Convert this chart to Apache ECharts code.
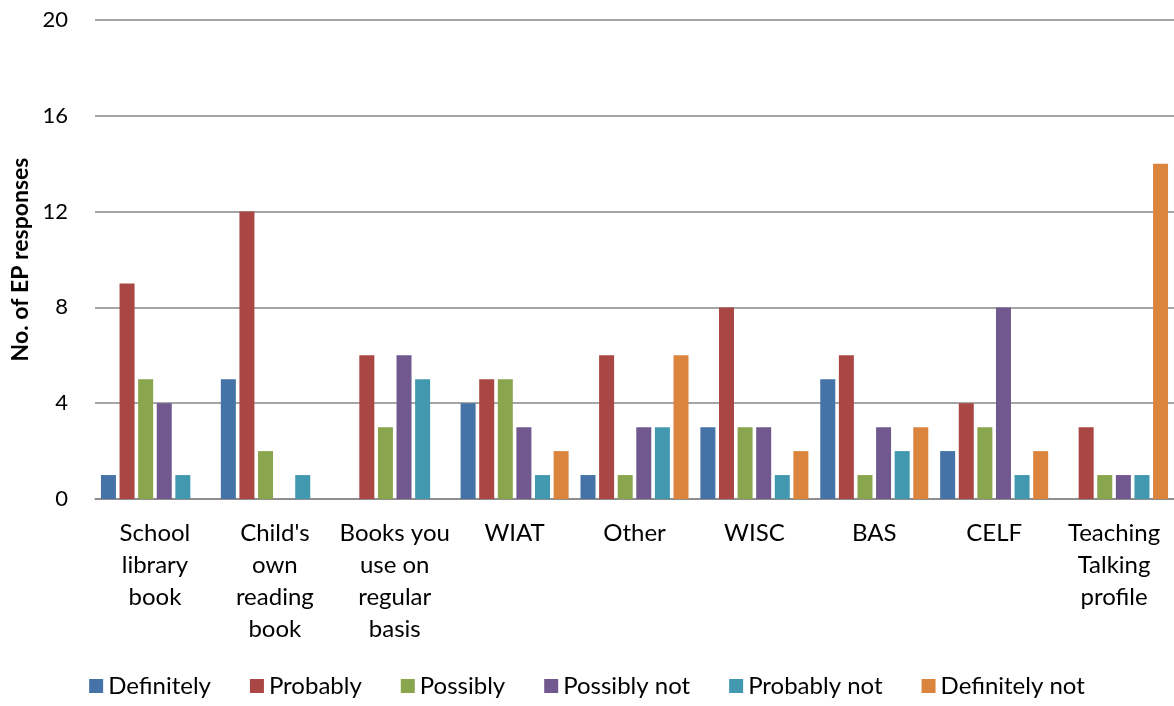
<!DOCTYPE html>
<html>
<head>
<meta charset="utf-8">
<style>
  html, body { margin: 0; padding: 0; background: #fff; }
  #chart { width: 1174px; height: 706px; }
</style>
<script src="https://cdn.jsdelivr.net/npm/echarts@6/dist/echarts.min.js"></script>
</head>
<body>
<div id="chart"></div>
<script>
// Assessment materials (line breaks as shown under the axis)
const categories = [
  'School\nlibrary\nbook',
  "Child's\nown\nreading\nbook",
  'Books you\nuse on\nregular\nbasis',
  'WIAT',
  'Other',
  'WISC',
  'BAS',
  'CELF',
  'Teaching\nTalking\nprofile'
];

// Number of EP responses per answer
const definitely    = [1, 5, 0, 4, 1, 3, 5, 2, 0];
const probably      = [9, 12, 6, 5, 6, 8, 6, 4, 3];
const possibly      = [5, 2, 3, 5, 1, 3, 1, 3, 1];
const possiblyNot   = [4, 0, 6, 3, 3, 3, 3, 8, 1];
const probablyNot   = [1, 1, 5, 1, 3, 1, 2, 1, 1];
const definitelyNot = [0, 0, 0, 2, 6, 2, 3, 2, 14];

const yTicks = { min: 0, max: 20, interval: 4 };

const seriesDefs = [
  { name: 'Definitely',     data: definitely,    color: '#4572A7' },
  { name: 'Probably',       data: probably,      color: '#AA4643' },
  { name: 'Possibly',       data: possibly,      color: '#89A54E' },
  { name: 'Possibly not',   data: possiblyNot,   color: '#71588F' },
  { name: 'Probably not',   data: probablyNot,   color: '#4198AF' },
  { name: 'Definitely not', data: definitelyNot, color: '#DB843D' }
];

const FONT = 'Lato, "Open Sans", sans-serif';

const chart = echarts.init(document.getElementById('chart'));
chart.setOption({
  animation: false,
  backgroundColor: '#ffffff',
  textStyle: { fontFamily: FONT, color: '#000' },
  grid: { left: 95, right: 0, top: 20, bottom: 207, containLabel: false, outerBoundsMode: 'none' },
  legend: {
    bottom: 3,
    left: 'center',
    itemWidth: 14,
    itemHeight: 14,
    itemGap: 39,
    icon: 'rect',
    textStyle: { fontFamily: FONT, fontSize: 24, color: '#000' },
    data: seriesDefs.map(s => s.name)
  },
  xAxis: {
    type: 'category',
    data: categories,
    axisLine: { show: true, lineStyle: { color: '#878787', width: 1.5 } },
    axisTick: { show: false },
    axisLabel: {
      interval: 0,
      margin: 18,
      fontFamily: FONT,
      fontSize: 24,
      lineHeight: 32,
      color: '#000',
      align: 'center',
      verticalAlign: 'top'
    }
  },
  yAxis: {
    type: 'value',
    min: yTicks.min,
    max: yTicks.max,
    interval: yTicks.interval,
    name: 'No. of EP responses',
    nameLocation: 'middle',
    nameRotate: 90,
    nameGap: 63,
    nameTextStyle: { fontFamily: FONT, fontSize: 23, fontWeight: 'bold', color: '#000' },
    axisLine: { show: false },
    axisTick: { show: false },
    axisLabel: { margin: 27, fontFamily: FONT, fontSize: 22, color: '#000' },
    splitLine: { show: true, lineStyle: { color: '#878787', width: 1.5 } }
  },
  series: seriesDefs.map(s => ({
    name: s.name,
    type: 'bar',
    data: s.data,
    barWidth: 15,
    barGap: '24%',
    itemStyle: { color: s.color }
  }))
});
</script>
</body>
</html>
